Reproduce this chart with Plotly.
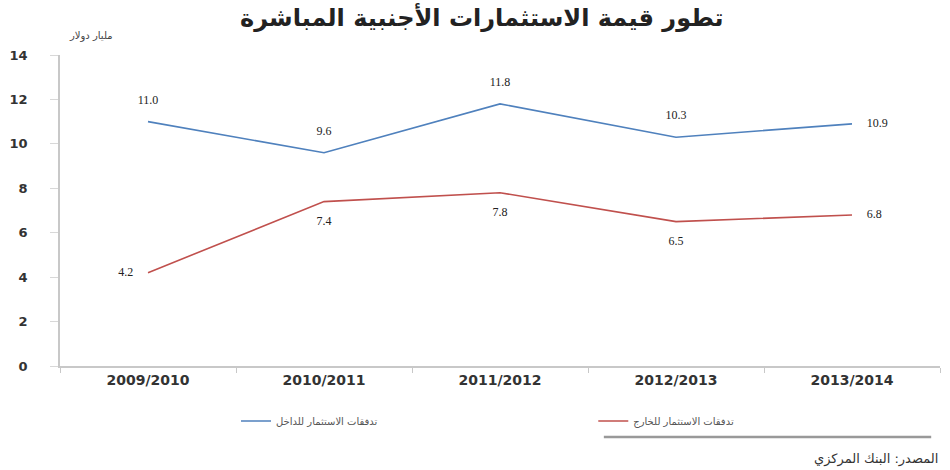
import plotly.graph_objects as go

# Fiscal years and foreign direct investment flows (billion USD)
years = ["2009/2010", "2010/2011", "2011/2012", "2012/2013", "2013/2014"]
inflows = [11.0, 9.6, 11.8, 10.3, 10.9]
outflows = [4.2, 7.4, 7.8, 6.5, 6.8]
y_ticks = [0, 2, 4, 6, 8, 10, 12, 14]

inflow_name = "تدفقات الاستثمار للداخل"
outflow_name = "تدفقات الاستثمار للخارج"
title_text = "تطور قيمة الاستثمارات الأجنبية المباشرة"
unit_text = "مليار دولار"
source_text = "المصدر: البنك المركزي"

AR_FONT = "DejaVu Sans, Noto Sans, sans-serif"
NUM_FONT = "Liberation Serif, DejaVu Serif, serif"

# transparent markers keep the value labels clear of the lines
ghost = dict(size=22, color="rgba(0,0,0,0)", line=dict(width=0))

fig = go.Figure()

fig.add_trace(go.Scatter(
    x=years, y=inflows, name=inflow_name, mode="lines+markers+text",
    line=dict(color="#4F81BD", width=1.6), marker=ghost,
    texttemplate="%{y:.1f}",
    textposition=["top center", "top center", "top center", "top center", "middle right"],
    textfont=dict(family=NUM_FONT, size=12, color="#222"),
    cliponaxis=False, legend="legend",
))

fig.add_trace(go.Scatter(
    x=years, y=outflows, name=outflow_name, mode="lines+markers+text",
    line=dict(color="#C0504D", width=1.6), marker=ghost,
    texttemplate="%{y:.1f}",
    textposition=["middle left", "bottom center", "bottom center", "bottom center", "middle right"],
    textfont=dict(family=NUM_FONT, size=12, color="#222"),
    cliponaxis=False, legend="legend2",
))

legend_style = dict(
    orientation="h", xanchor="left", y=-0.177, yanchor="middle",
    font=dict(family=AR_FONT, size=10, color="#555"),
    itemwidth=30, bgcolor="rgba(0,0,0,0)",
)

fig.update_layout(
    width=950, height=470,
    margin=dict(l=58, r=10, t=55, b=104),
    paper_bgcolor="white", plot_bgcolor="white",
    showlegend=True,
    legend=dict(legend_style, x=0.2),
    legend2=dict(legend_style, x=0.606),
    annotations=[
        dict(text="<b>" + title_text + "</b>", xref="paper", yref="paper",
             x=0.48, y=1.0, yshift=38, xanchor="center", yanchor="middle",
             showarrow=False, font=dict(family=AR_FONT, size=24, color="#222")),
        dict(text=unit_text, xref="paper", yref="paper",
             x=0.062, y=1.0, yshift=19, xanchor="right", yanchor="middle",
             showarrow=False, font=dict(family=AR_FONT, size=10, color="#444")),
        dict(text=source_text, xref="paper", yref="paper",
             x=1.0, y=0, yshift=-93, xanchor="right", yanchor="middle",
             showarrow=False, font=dict(family=AR_FONT, size=13, color="#333")),
    ],
)

# separator line above the source note
fig.add_shape(type="line", xref="paper", yref="paper",
              x0=0.618, x1=0.99, y0=-0.228, y1=-0.228,
              line=dict(color="#999", width=2.5))

fig.update_xaxes(
    type="category", range=[-0.5, 4.5],
    showline=True, linecolor="#c8c8c8", linewidth=1.5,
    ticks="outside", tickson="boundaries", ticklen=5, tickcolor="#c8c8c8",
    showgrid=False, zeroline=False,
    tickfont=dict(family="DejaVu Sans, sans-serif", size=14, color="#333", weight="bold"),
)

fig.update_yaxes(
    range=[0, 14], tickvals=y_ticks,
    showline=True, linecolor="#c8c8c8", linewidth=1.5,
    ticks="outside", ticklen=8, tickcolor="#d8d8d8",
    ticklabelstandoff=20,
    showgrid=False, zeroline=False,
    tickfont=dict(family="DejaVu Sans, sans-serif", size=13, color="#333", weight="bold"),
)

fig.write_html("out.html")
